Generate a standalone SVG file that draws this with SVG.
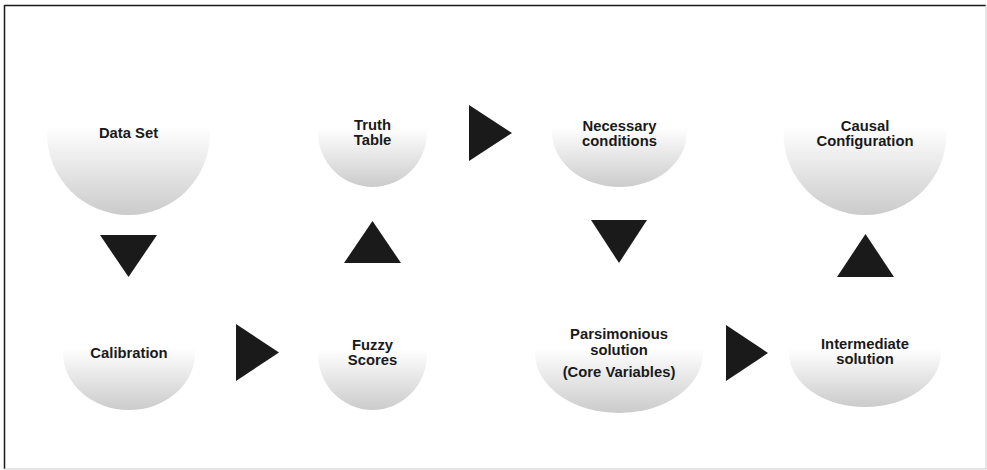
<svg xmlns="http://www.w3.org/2000/svg" width="987" height="470" viewBox="0 0 987 470">
  <defs>
    <linearGradient id="g" x1="0" y1="0" x2="0" y2="1">
      <stop offset="0" stop-color="#ffffff"/>
      <stop offset="0.46" stop-color="#ffffff"/>
      <stop offset="1" stop-color="#cbcbcb"/>
    </linearGradient>
  </defs>
  <style>
    .node { fill: url(#g); }
    .lbl { font-family: "Liberation Sans", Arial, sans-serif; font-weight: bold; font-size: 14.8px; fill: #1a1a1a; text-anchor: middle; }
    .arrow { fill: #1a1a1a; }
  </style>
  <rect x="0" y="0" width="987" height="470" fill="#ffffff"/>
  <g id="frame">
    <line x1="4.5" y1="5.5" x2="986" y2="5.5" stroke="#1a1a1a" stroke-width="1.5"/>
    <line x1="4.5" y1="5" x2="4.5" y2="469" stroke="#1a1a1a" stroke-width="1.5"/>
    <line x1="986" y1="5" x2="986" y2="469" stroke="#cccccc" stroke-width="1"/>
    <line x1="4" y1="469" x2="986.5" y2="469" stroke="#cccccc" stroke-width="1"/>
  </g>

  <g id="data-set">
    <ellipse class="node" cx="128.5" cy="133.5" rx="81.5" ry="81.5"/>
    <text class="lbl" x="128.5" y="138">Data Set</text>
  </g>
  <g id="truth-table">
    <ellipse class="node" cx="372.5" cy="132.5" rx="54.5" ry="54.5"/>
    <text class="lbl" x="372.5" y="130">Truth</text>
    <text class="lbl" x="372.5" y="145">Table</text>
  </g>
  <g id="necessary-conditions">
    <ellipse class="node" cx="619.5" cy="132" rx="67.5" ry="55"/>
    <text class="lbl" x="619.5" y="131">Necessary</text>
    <text class="lbl" x="619.5" y="146">conditions</text>
  </g>
  <g id="causal-configuration">
    <ellipse class="node" cx="865" cy="133.5" rx="81.5" ry="81.5"/>
    <text class="lbl" x="865" y="131">Causal</text>
    <text class="lbl" x="865" y="146">Configuration</text>
  </g>
  <g id="calibration">
    <ellipse class="node" cx="129" cy="353" rx="66" ry="57"/>
    <text class="lbl" x="129" y="358">Calibration</text>
  </g>
  <g id="fuzzy-scores">
    <ellipse class="node" cx="372.5" cy="354" rx="54.5" ry="56"/>
    <text class="lbl" x="372.5" y="350">Fuzzy</text>
    <text class="lbl" x="372.5" y="365">Scores</text>
  </g>
  <g id="parsimonious-solution">
    <ellipse class="node" cx="619" cy="353" rx="84" ry="60"/>
    <text class="lbl" x="619" y="339">Parsimonious</text>
    <text class="lbl" x="619" y="355">solution</text>
    <text class="lbl" x="619" y="377">(Core Variables)</text>
  </g>
  <g id="intermediate-solution">
    <ellipse class="node" cx="865" cy="353" rx="76" ry="54"/>
    <text class="lbl" x="865" y="349">Intermediate</text>
    <text class="lbl" x="865" y="364">solution</text>
  </g>

  <g id="connectors">
    <polygon class="arrow" points="100,235 157,235 128.5,277"/>
    <polygon class="arrow" points="236,324 236,381 279,352.5"/>
    <polygon class="arrow" points="344,263 401,263 372.5,221"/>
    <polygon class="arrow" points="469,105 469,161 512,133"/>
    <polygon class="arrow" points="591,220 647,220 619,263"/>
    <polygon class="arrow" points="726,325 726,381 768,353"/>
    <polygon class="arrow" points="837,277 894,277 865.5,234"/>
  </g>
</svg>
